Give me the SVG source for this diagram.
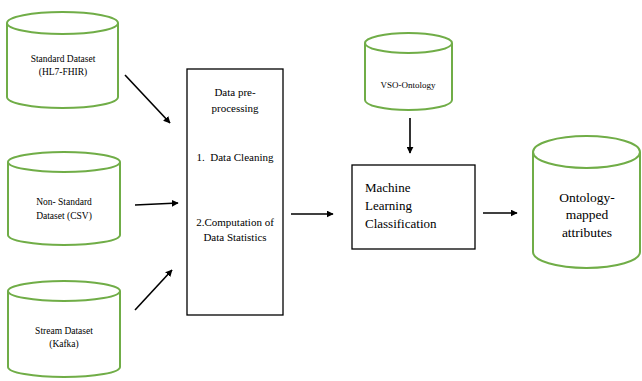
<svg xmlns="http://www.w3.org/2000/svg" width="642" height="381" viewBox="0 0 642 381">
<defs>
<marker id="ah" viewBox="0 0 10 10" refX="9" refY="5" markerWidth="7" markerHeight="7" markerUnits="userSpaceOnUse" orient="auto">
<path d="M0,0 L10,5 L0,10 Z" fill="#000"/>
</marker>
<style>
.cyl{fill:#fff;stroke:#70ad47;stroke-width:2}
.box{fill:#fff;stroke:#000;stroke-width:1.3}
text{font-family:'Liberation Serif','DejaVu Serif',serif;fill:#000;white-space:pre}
.c{text-anchor:middle}
.arr{stroke:#000;stroke-width:1.6;fill:none;marker-end:url(#ah)}
</style>
</defs>
<rect width="642" height="381" fill="#fff"/>
<g id="standard">
<path class="cyl" d="M7,23 L7,97 A55.5,11 0 0 0 118,97 L118,23"/>
<ellipse class="cyl" cx="62.5" cy="23" rx="55.5" ry="11"/>
<text class="c" font-size="9.5" x="63" y="62">Standard Dataset</text>
<text class="c" font-size="9.5" x="63" y="75">(HL7-FHIR)</text>
</g>
<g id="nonstandard">
<path class="cyl" d="M8,162 L8,235 A56,10 0 0 0 120,235 L120,162"/>
<ellipse class="cyl" cx="64" cy="162" rx="56" ry="10"/>
<text class="c" font-size="9.5" x="64" y="205">Non- Standard</text>
<text class="c" font-size="9.5" x="64" y="219">Dataset (CSV)</text>
</g>
<g id="stream">
<path class="cyl" d="M8,291 L8,367 A56,10 0 0 0 120,367 L120,291"/>
<ellipse class="cyl" cx="64" cy="291" rx="56" ry="10"/>
<text class="c" font-size="9.5" x="64" y="334">Stream Dataset</text>
<text class="c" font-size="9.5" x="64" y="347">(Kafka)</text>
</g>
<g id="preprocessing">
<rect class="box" x="187" y="69" width="96" height="246"/>
<text class="c" font-size="11" x="235" y="96">Data pre-</text>
<text class="c" font-size="11" x="235" y="112">processing</text>
<text class="c" font-size="11" x="235" y="161" xml:space="preserve">1.  Data Cleaning</text>
<text class="c" font-size="11" x="235" y="226">2.Computation of</text>
<text class="c" font-size="11" x="235" y="241">Data Statistics</text>
</g>
<g id="vso">
<path class="cyl" d="M365,43 L365,100 A43.5,10 0 0 0 452,100 L452,43"/>
<ellipse class="cyl" cx="408.5" cy="43" rx="43.5" ry="10"/>
<text class="c" font-size="9" x="408" y="88">VSO-Ontology</text>
</g>
<g id="ml">
<rect class="box" x="352" y="165" width="123" height="84"/>
<text font-size="13" x="365" y="192">Machine</text>
<text font-size="13" x="365" y="210">Learning</text>
<text font-size="13" x="365" y="228">Classification</text>
</g>
<g id="ontology">
<path class="cyl" d="M533,152 L533,252 A53.5,16 0 0 0 640,252 L640,152"/>
<ellipse class="cyl" cx="586.5" cy="152" rx="53.5" ry="16"/>
<text class="c" font-size="13.5" x="587" y="202">Ontology-</text>
<text class="c" font-size="13.5" x="587" y="219">mapped</text>
<text class="c" font-size="13.5" x="587" y="237">attributes</text>
</g>
<g id="connectors">
<line class="arr" x1="125" y1="75" x2="170" y2="123"/>
<line class="arr" x1="135" y1="205" x2="178" y2="203"/>
<line class="arr" x1="135" y1="310" x2="172" y2="270"/>
<line class="arr" x1="291" y1="214" x2="333" y2="214"/>
<line class="arr" x1="410" y1="118" x2="410" y2="153"/>
<line class="arr" x1="483" y1="213" x2="517" y2="213"/>
</g>
</svg>
